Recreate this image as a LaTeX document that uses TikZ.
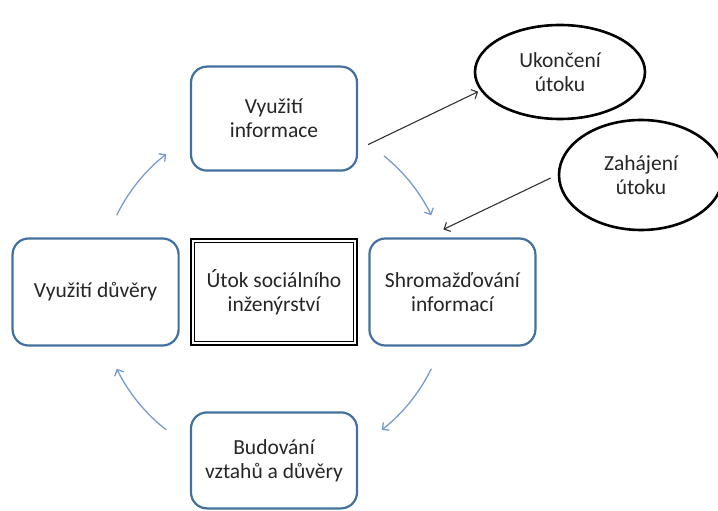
\documentclass[tikz,border=0pt]{standalone}
\usepackage{fontspec}
\setmainfont{Carlito}
\usetikzlibrary{positioning,shapes.geometric,arrows.meta}
\definecolor{boxblue}{RGB}{65,113,156}
\definecolor{cycleblue}{RGB}{120,155,205}
\tikzset{
	phase/.style = {draw=boxblue, line width=2.2bp, rounded corners=16bp, fill=white,
		align=center, minimum width=166bp, minimum height=104bp, inner sep=2bp},
	core/.style  = {draw, line width=2.6bp, align=center, minimum width=166bp,
		minimum height=106bp},
	stage/.style = {draw, ellipse, line width=2.6bp, align=center, inner sep=0pt},
	cycle/.style = {draw=cycleblue, line width=1.3bp, -{Straight Barb[length=5bp,width=10bp]}},
	link/.style  = {draw=black!80, line width=1.1bp, -{Straight Barb[length=5bp,width=10bp]}}
}
\begin{document}
\begin{tikzpicture}[x=1bp, y=-1bp, node distance=10bp,
		font=\fontsize{21.5bp}{24bp}\selectfont, text=black!85]
	\useasboundingbox (0,0) rectangle (718,511);
	
	% centre of the cycle
	\node[core] (core) at (274,292) {Útok sociálního\\inženýrství};
	\draw[line width=1bp] ([shift={(5bp,-5bp)}]core.north west) rectangle ([shift={(-5bp,5bp)}]core.south east);
	% the four phases round it
	\node[phase, minimum height=107bp, left=of core] (trust) {Využití důvěry};
	\node[phase, minimum height=107bp, right=of core] (gather) {Shromažďování\\informací};
	\node[phase, above=66bp of core] (info) {Využití\\informace};
	\node[phase, minimum height=96bp, below=65bp of core] (build) {Budování\\vztahů a důvěry};
	% start and end
	\node[stage, minimum width=170bp, minimum height=94bp] (endatk) at (560,72) {Ukončení\\útoku};
	\node[stage, minimum width=164bp, minimum height=110bp] (startatk) at (641,175) {Zahájení\\útoku};
	
	\coordinate (hub) at (core.center);
	\foreach \a/\b in {154/128, 51/26, -26/-52, -128/-154}
	\draw[cycle] ([shift={(\a:175bp)}]hub) arc[start angle=\a, end angle=\b, radius=175bp];
	
	\draw[link] ([shift={(10bp,-26bp)}]info.east) -- ([shift={(-3bp,0bp)}]endatk.194);
	\draw[link] ([shift={(-7bp,-3bp)}]startatk.west) -- ([shift={(-9bp,8bp)}]gather.north);
\end{tikzpicture}
\end{document}
